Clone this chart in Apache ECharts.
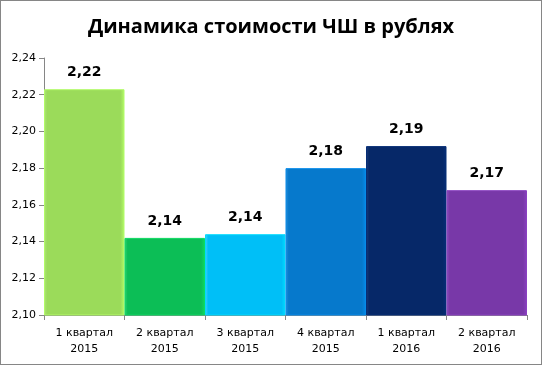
<!DOCTYPE html>
<html><head><meta charset="utf-8">
<script src="https://cdn.jsdelivr.net/npm/echarts@6/dist/echarts.min.js"></script>
<style>html,body{margin:0;padding:0;background:#fff}#c{width:542px;height:365px;box-sizing:border-box;border:1px solid #868686}</style>
</head><body><div id="c"></div>
<script>
const categories = ['1 квартал\n2015','2 квартал\n2015','3 квартал\n2015','4 квартал\n2015','1 квартал\n2016','2 квартал\n2016'];
const values = [2.223, 2.142, 2.144, 2.180, 2.192, 2.168];
const colors = ['#9BDB5A','#0CBE56','#00BFF7','#0679CC','#062868','#7838A8'];
const lightColors = ['#AEE578','#3ACD78','#4AD2FA','#2A8ED8','#1C3C7A','#8A50B8'];
const chart = echarts.init(document.getElementById('c'));
chart.setOption({
  animation:false,
  title:{text:'Динамика стоимости ЧШ в рублях',left:'center',top:11,textStyle:{fontFamily:'Open Sans',fontWeight:'bold',fontSize:20,color:'#000'}},
  grid:{left:43,right:14,top:57,bottom:49},
  xAxis:{type:'category',data:categories,
    axisLine:{lineStyle:{color:'#868686'}},
    axisTick:{show:true,length:5,lineStyle:{color:'#868686'}},
    axisLabel:{color:'#000',fontFamily:'DejaVu Sans',fontSize:11,lineHeight:16,margin:10}},
  yAxis:{type:'value',min:2.10,max:2.24,interval:0.02,
    splitLine:{show:false},
    axisLine:{show:true,lineStyle:{color:'#868686'}},
    axisTick:{show:true,length:5,lineStyle:{color:'#868686'}},
    axisLabel:{color:'#000',fontFamily:'DejaVu Sans',fontSize:11,margin:8,formatter:v=>v.toFixed(2).replace('.',',')}},
  series:[{type:'bar',barCategoryGap:'0%',
    data:values.map((v,i)=>({value:v,itemStyle:{
      color:new echarts.graphic.LinearGradient(0,0,1,0,[
        {offset:0,color:lightColors[i]},{offset:0.04,color:colors[i]},
        {offset:0.95,color:colors[i]},{offset:1,color:echarts.color.lift(colors[i],-0.15)}]),
      borderColor:echarts.color.lift(colors[i],-0.15),borderWidth:1}})),
    label:{show:true,position:'top',distance:10,color:'#000',fontFamily:'DejaVu Sans',fontWeight:'bold',fontSize:14,
      formatter:p=>p.value.toFixed(2).replace('.',',')}
  }]
});
</script></body></html>
